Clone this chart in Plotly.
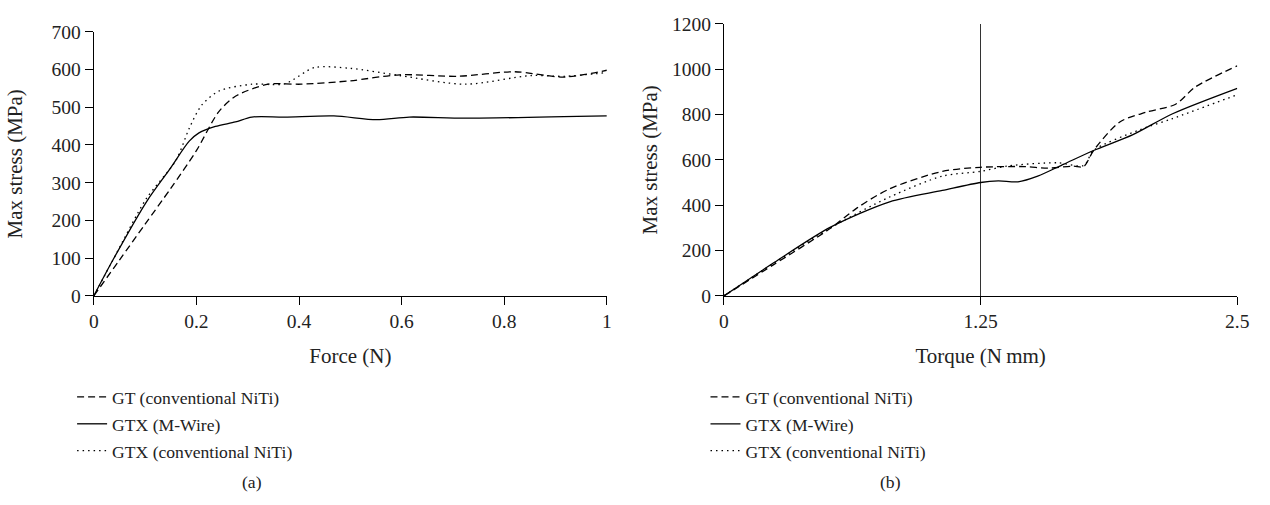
import plotly.graph_objects as go

# ---------------- data (a): Max stress vs Force ----------------
force_gt = [0, 0.05, 0.10, 0.15, 0.20, 0.243, 0.276, 0.34, 0.404, 0.50, 0.596, 0.71, 0.82, 0.917, 1.0]
stress_gt = [0, 95, 190, 285, 385, 487, 529, 561, 561, 570, 586, 582, 594, 580, 598]

force_gtx_m = [0, 0.038, 0.103, 0.147, 0.186, 0.205, 0.237, 0.276, 0.308, 0.372, 0.468, 0.551, 0.615, 0.724, 1.0]
stress_gtx_m = [0, 97, 250, 334, 410, 432, 449, 461, 474, 474, 477, 467, 474, 471, 477]

force_gtx_c = [0, 0.04, 0.102, 0.16, 0.186, 0.21, 0.244, 0.308, 0.372, 0.43, 0.50, 0.596, 0.724, 0.852, 0.917, 1.0]
stress_gtx_c = [0, 102, 257, 359, 444, 505, 543, 561, 562, 605, 603, 584, 561, 584, 582, 592]

# ---------------- data (b): Max stress vs Torque ----------------
torque_gt = [0, 0.246, 0.519, 0.647, 0.807, 1.064, 1.25, 1.464, 1.576, 1.70, 1.752, 1.80, 1.928, 2.057, 2.2, 2.297, 2.5]
stress_gt_b = [0, 140, 298, 387, 472, 549, 567, 570, 563, 572, 570, 641, 767, 810, 845, 922, 1014]

torque_gtx_m = [0, 0.246, 0.519, 0.807, 1.064, 1.25, 1.336, 1.432, 1.528, 1.656, 1.80, 1.992, 2.185, 2.5]
stress_gtx_m_b = [0, 148, 303, 415, 465, 500, 507, 503, 528, 581, 641, 711, 803, 915]

torque_gtx_c = [0, 0.246, 0.519, 0.807, 1.064, 1.25, 1.384, 1.624, 1.752, 1.80, 2.024, 2.185, 2.5]
stress_gtx_c_b = [0, 146, 300, 436, 528, 549, 573, 587, 575, 641, 732, 782, 887]

names = ["GT (conventional NiTi)", "GTX (M-Wire)", "GTX (conventional NiTi)"]
x_ticks_a = [0, 0.2, 0.4, 0.6, 0.8, 1]
x_tick_text_a = ["0", "0.2", "0.4", "0.6", "0.8", "1"]
y_ticks_a = [0, 100, 200, 300, 400, 500, 600, 700]
x_ticks_b = [0, 1.25, 2.5]
x_tick_text_b = ["0", "1.25", "2.5"]
y_ticks_b = [0, 200, 400, 600, 800, 1000, 1200]

FONT = "Liberation Serif"
FS_TICK = 19.5
FS_TITLE = 21
FS_LEG = 17.6
TXT = "#222"
DASH = "7px,4px"
DOT = "1.5px,4px"
LW = 1.3

fig = go.Figure()

styles = [DASH, "solid", DOT]
data_a = [(force_gt, stress_gt), (force_gtx_m, stress_gtx_m), (force_gtx_c, stress_gtx_c)]
data_b = [(torque_gt, stress_gt_b), (torque_gtx_m, stress_gtx_m_b), (torque_gtx_c, stress_gtx_c_b)]

for i, (xs, ys) in enumerate(data_a):
    fig.add_trace(go.Scatter(
        x=xs, y=ys, mode="lines", name=names[i],
        line=dict(color="black", width=LW, dash=styles[i], shape="spline", smoothing=0.8),
        xaxis="x", yaxis="y", legend="legend", legendgroup="a%d" % i,
    ))
for i, (xs, ys) in enumerate(data_b):
    fig.add_trace(go.Scatter(
        x=xs, y=ys, mode="lines", name=names[i],
        line=dict(color="black", width=LW, dash=styles[i], shape="spline", smoothing=0.8),
        xaxis="x2", yaxis="y2", legend="legend2", legendgroup="b%d" % i,
    ))

W, H = 1270, 505
def px_x(p):
    return p / W
def px_y(p):
    return 1 - p / H

title_font = dict(family=FONT, size=FS_TITLE, color=TXT)

axis_common = dict(
    showline=True, linecolor="black", linewidth=1.3,
    ticks="outside", ticklen=8, tickwidth=1.3, tickcolor="black",
    zeroline=False, showgrid=False,
    tickfont=dict(family=FONT, size=FS_TICK, color=TXT),
)

leg_common = dict(xanchor="left", yanchor="top", bgcolor="rgba(0,0,0,0)",
                  font=dict(family=FONT, size=FS_LEG, color=TXT),
                  tracegroupgap=1, itemwidth=30)

fig.update_layout(
    width=W, height=H,
    margin=dict(l=0, r=0, t=0, b=0),
    paper_bgcolor="white", plot_bgcolor="white",
    font=dict(family=FONT, size=FS_TICK, color=TXT),
    xaxis=dict(axis_common, domain=[px_x(90), px_x(610)], range=[0, 1],
               tickvals=x_ticks_a, ticktext=x_tick_text_a,
               title=dict(text="Force (N)", standoff=16, font=title_font), anchor="y"),
    yaxis=dict(axis_common, domain=[px_y(298.3), px_y(22.7)], range=[0, 700],
               tickvals=y_ticks_a,
               title=dict(text="Max stress (MPa)", standoff=23, font=title_font), anchor="x"),
    xaxis2=dict(axis_common, domain=[px_x(728.7), px_x(1249)], range=[0, 2.5],
                tickvals=x_ticks_b, ticktext=x_tick_text_b,
                showgrid=True, gridcolor="#333", gridwidth=1.2,
                title=dict(text="Torque (N\u2009mm)", standoff=16, font=title_font), anchor="y2"),
    yaxis2=dict(axis_common, domain=[px_y(298.3), px_y(14.3)], range=[0, 1200],
                tickvals=y_ticks_b,
                title=dict(text="Max stress (MPa)", standoff=8, font=title_font), anchor="x2"),
    legend=dict(leg_common, x=px_x(68), y=px_y(385)),
    legend2=dict(leg_common, x=px_x(710), y=px_y(385)),
    annotations=[
        dict(text="(a)", x=px_x(250), y=px_y(493), xref="paper", yref="paper",
             xanchor="center", yanchor="middle",
             showarrow=False, font=dict(family=FONT, size=FS_LEG, color=TXT)),
        dict(text="(b)", x=px_x(898), y=px_y(493), xref="paper", yref="paper",
             xanchor="center", yanchor="middle",
             showarrow=False, font=dict(family=FONT, size=FS_LEG, color=TXT)),
    ],
)

fig.write_html("out.html")
